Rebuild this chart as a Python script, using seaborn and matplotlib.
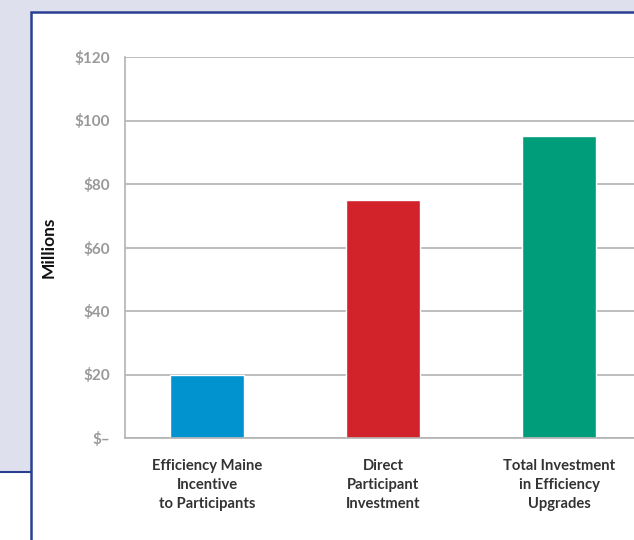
import pandas as pd
import seaborn as sns
import matplotlib.pyplot as plt
from matplotlib.patches import Rectangle

# Chart data
categories = [
    "Efficiency Maine\nIncentive\nto Participants",
    "Direct\nParticipant\nInvestment",
    "Total Investment\nin Efficiency\nUpgrades",
]
values = [20, 75, 95]
bar_colors = ["#0093d0", "#d2232a", "#009d7a"]
y_ticks = [0, 20, 40, 60, 80, 100, 120]
y_tick_labels = ["$\u2013", "$20", "$40", "$60", "$80", "$100", "$120"]

df = pd.DataFrame({"category": categories, "value": values})

sns.set_theme(style="white")
plt.rcParams["font.family"] = ["Lato", "DejaVu Sans"]

fig = plt.figure(figsize=(6.34, 5.4), dpi=100, facecolor="white")

# background panel and framed box
border = "#2a3f92"
fig.patches.append(Rectangle((-0.1, 68 / 540), 1.2, 1, transform=fig.transFigure,
                             facecolor="#dfe0ee", edgecolor=border, linewidth=1.5,
                             zorder=0))
fig.patches.append(Rectangle((31 / 634, -0.2), 1.2, 1.2 - 12 / 540,
                             transform=fig.transFigure, facecolor="white",
                             edgecolor=border, linewidth=1.8, zorder=0.5))

ax = fig.add_axes([125 / 634, 102 / 540, 516 / 634, 381 / 540])
ax.set_zorder(2)
ax.set_facecolor("none")

sns.barplot(data=df, x="category", y="value", hue="category",
            palette=bar_colors, width=0.42, legend=False, saturation=1, ax=ax)

ax.set_ylim(0, 120)
ax.set_xlim(-0.466, 2.466)
ax.set_yticks(y_ticks)
ax.set_yticklabels(y_tick_labels)
ax.yaxis.grid(True, color="#b3b3b3", linewidth=1.2)
ax.set_axisbelow(True)

for side in ["top", "right"]:
    ax.spines[side].set_visible(False)
for side in ["left", "bottom"]:
    ax.spines[side].set_color("#b3b3b3")
    ax.spines[side].set_linewidth(1.2)

ax.tick_params(axis="y", length=0, pad=11, labelsize=11, labelcolor="#999999")
ax.tick_params(axis="x", length=0, pad=15, labelsize=10.6, labelcolor="#333333")
for lbl in ax.get_yticklabels() + ax.get_xticklabels():
    lbl.set_fontweight("bold")
for lbl in ax.get_xticklabels():
    lbl.set_linespacing(1.45)

ax.set_xlabel("")
ax.set_ylabel("Millions", fontsize=12.5, fontweight="bold", color="#111111",
              labelpad=0)
ax.yaxis.set_label_coords(-68 / 516, 0.5)

fig.savefig("out.png", dpi=100, facecolor=fig.get_facecolor())
